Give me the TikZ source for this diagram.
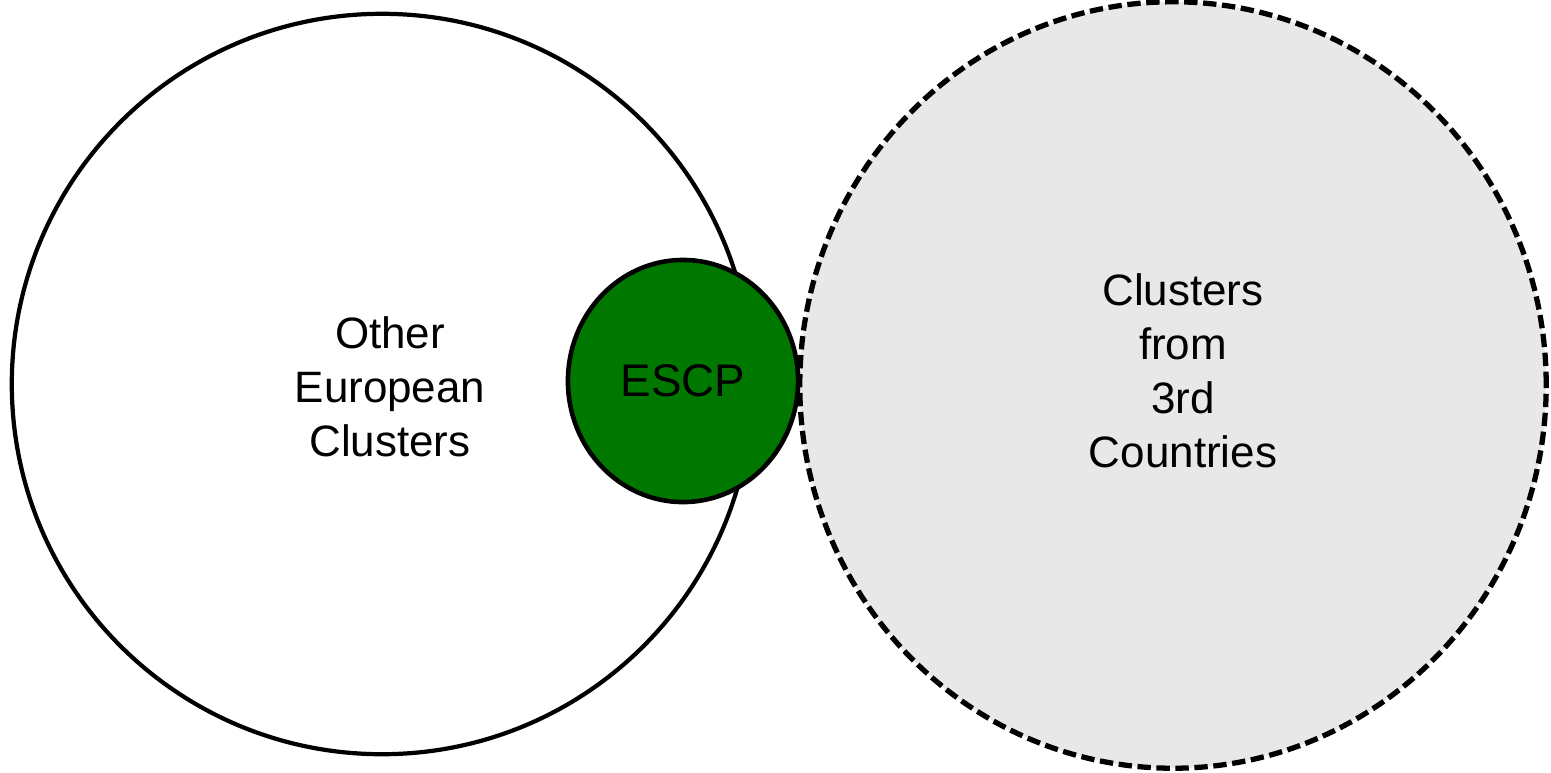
\documentclass[tikz,border=0pt]{standalone}
\usepackage{fontspec}
\setmainfont{Liberation Sans}
\usetikzlibrary{shapes}
\usetikzlibrary{positioning}
\definecolor{escpgreen}{RGB}{0,120,0}
\tikzset{
    bigring/.style = {ellipse, line width=1.2pt, draw=black, inner sep=0pt, minimum width=7.40cm, minimum height=7.40cm},
    dashring/.style = {ellipse, line width=1.5pt, draw=black, dash pattern=on 3.8pt off 1.6pt, fill=black!9, inner sep=0pt, minimum width=7.46cm, minimum height=7.66cm},
    core/.style = {ellipse, line width=1.3pt, draw=black, fill=escpgreen, inner sep=0pt, minimum width=2.30cm, minimum height=2.42cm, font=\fontsize{13}{15}\selectfont},
    tag/.style = {align=center, font=\fontsize{12.5}{15.4}\selectfont}
}
\begin{document}
\begin{tikzpicture}[x=0.01cm,y=-0.01cm]
\useasboundingbox (0,0) rectangle (1551,772);
\node[bigring] at (382, 384) (euro) {};
\node[dashring] at (1173, 385) (third) {};
\node[core] at (683, 381) (escp) {ESCP};
%
\node[tag] at (390, 387) (eurotag) {Other\\European\\Clusters};
\node[tag] at (1183, 371) (thirdtag) {Clusters\\from\\3rd\\Countries};
\end{tikzpicture}
\end{document}
